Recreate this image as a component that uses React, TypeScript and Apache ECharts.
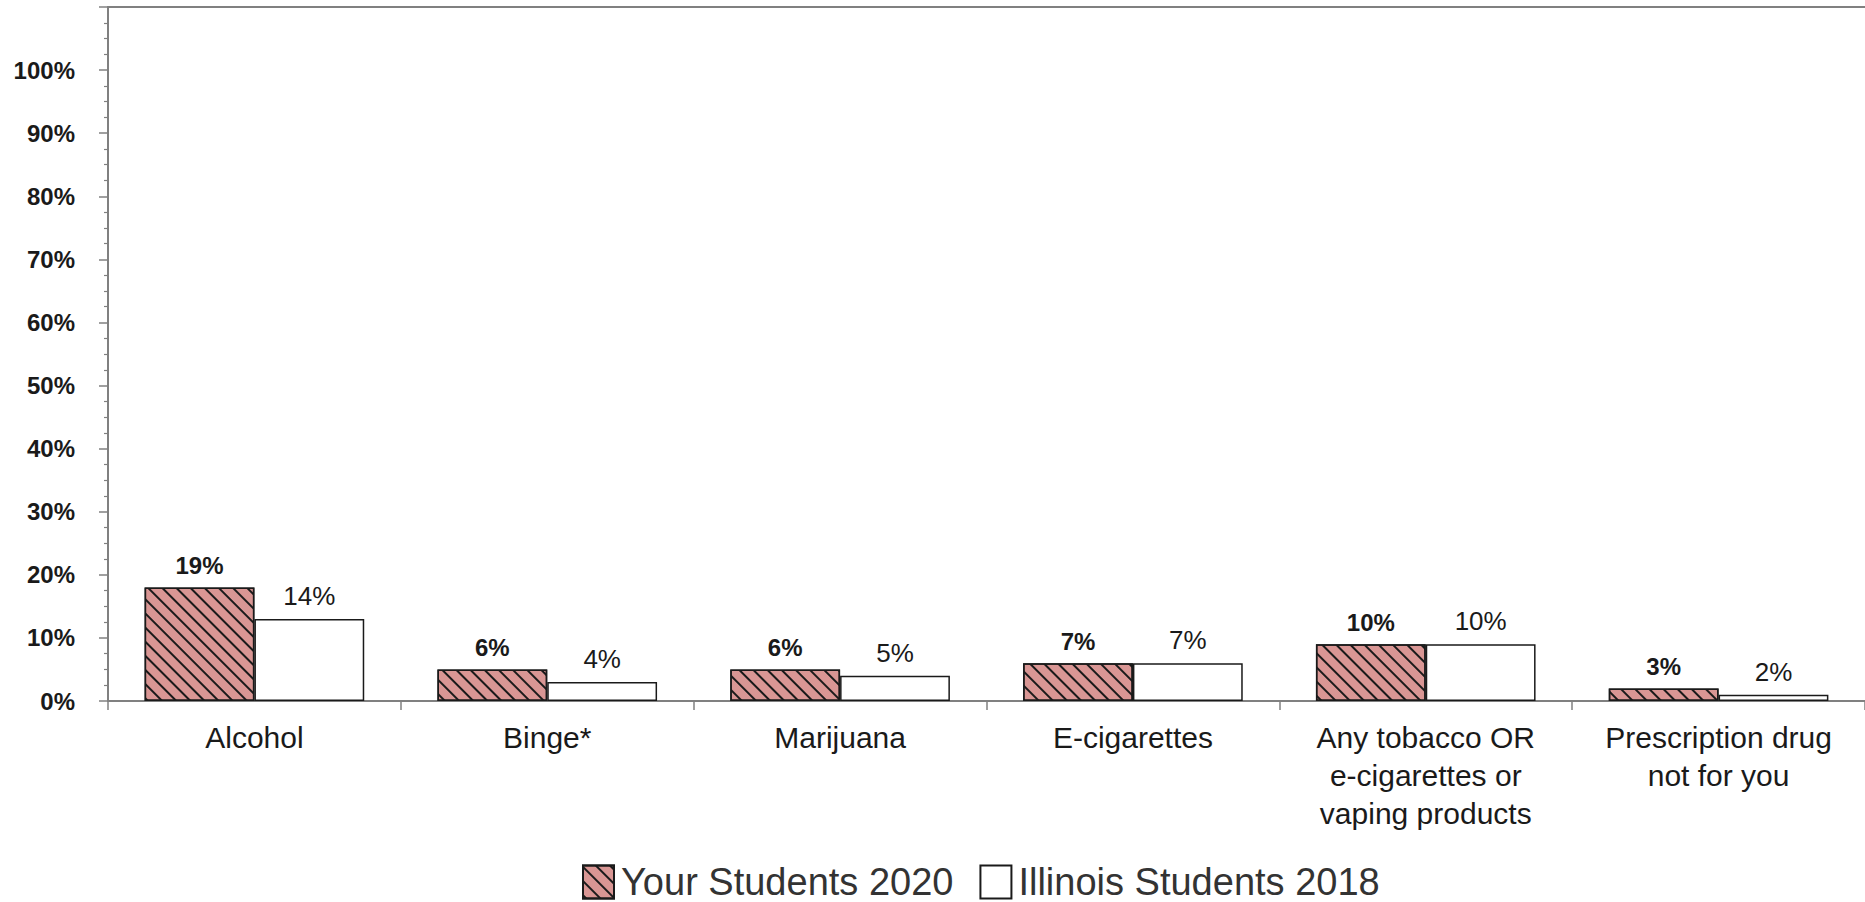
import React, { useEffect, useRef } from "react";
import * as echarts from "echarts";

const categories = [
  "Alcohol",
  "Binge*",
  "Marijuana",
  "E-cigarettes",
  "Any tobacco OR\ne-cigarettes or\nvaping products",
  "Prescription drug\nnot for you",
];
const yourStudents2020 = [18, 5, 5, 6, 9, 2];
const yourStudents2020Labels = ["19%", "6%", "6%", "7%", "10%", "3%"];
const illinoisStudents2018 = [13, 3, 4, 6, 9, 1];
const illinoisStudents2018Labels = ["14%", "4%", "5%", "7%", "10%", "2%"];
const yTickMax = 100;

const FONT = "'Liberation Sans', Arial, sans-serif";
const AXIS_GRAY = "#808080";

export default function App() {
  const ref = useRef<HTMLDivElement>(null);
  useEffect(() => {
    if (!ref.current) return;
    const chart = echarts.init(ref.current, undefined, { renderer: "svg" });
    chart.setOption({
      animation: false,
      backgroundColor: "#ffffff",
      textStyle: { fontFamily: FONT },
      grid: { left: 108, right: 0, top: 7, bottom: 201, containLabel: false },
      legend: {
        top: 863,
        left: 582,
        padding: 0,
        itemWidth: 31,
        itemHeight: 33,
        itemGap: 26,
        icon: "rect",
        textStyle: {
          fontFamily: FONT,
          fontSize: 38,
          lineHeight: 38,
          color: "#333333",
          padding: [0, 0, 0, 2],
        },
        data: ["Your Students 2020", "Illinois Students 2018"],
      },
      xAxis: [
        {
          type: "category",
          data: categories,
          axisLine: { show: true, lineStyle: { color: AXIS_GRAY, width: 2 } },
          axisTick: { show: true, length: 9, lineStyle: { color: AXIS_GRAY, width: 1.5 } },
          axisLabel: {
            interval: 0,
            margin: 17,
            fontFamily: FONT,
            fontSize: 30,
            lineHeight: 38,
            color: "#1a1a1a",
          },
        },
        {
          type: "category",
          data: categories,
          position: "top",
          axisLine: { show: true, lineStyle: { color: AXIS_GRAY, width: 2 } },
          axisTick: { show: false },
          axisLabel: { show: false },
        },
      ],
      yAxis: {
        type: "value",
        min: 0,
        max: 110,
        interval: 10,
        axisLine: { show: true, lineStyle: { color: AXIS_GRAY, width: 2 } },
        axisTick: { show: true, length: 9, lineStyle: { color: AXIS_GRAY, width: 1.5 } },
        minorTick: { show: true, splitNumber: 4, length: 4, lineStyle: { color: AXIS_GRAY, width: 1.2 } },
        splitLine: { show: false },
        axisLabel: {
          margin: 33,
          fontFamily: FONT,
          fontSize: 24,
          fontWeight: "bold",
          color: "#1a1a1a",
          formatter: (v: number) => (v > yTickMax ? "" : v + "%"),
        },
      },
      series: [
        {
          name: "Your Students 2020",
          type: "bar",
          data: yourStudents2020,
          barGap: "0%",
          barCategoryGap: "25%",
          itemStyle: {
            color: "#d99694",
            borderColor: "#1a1a1a",
            borderWidth: 1.5,
            decal: {
              symbol: "rect",
              symbolSize: 1,
              dashArrayX: [1, 0],
              dashArrayY: [1.6, 7.4],
              rotation: Math.PI / 4,
              color: "#1a1a1a",
            },
          },
          label: {
            show: true,
            position: "top",
            distance: 10,
            fontFamily: FONT,
            fontSize: 24,
            fontWeight: "bold",
            color: "#1a1a1a",
            formatter: (p: any) => yourStudents2020Labels[p.dataIndex],
          },
        },
        {
          name: "Illinois Students 2018",
          type: "bar",
          data: illinoisStudents2018,
          itemStyle: { color: "#ffffff", borderColor: "#1a1a1a", borderWidth: 1.5 },
          label: {
            show: true,
            position: "top",
            distance: 10,
            fontFamily: FONT,
            fontSize: 26,
            color: "#1a1a1a",
            formatter: (p: any) => illinoisStudents2018Labels[p.dataIndex],
          },
        },
      ],
    });
    return () => chart.dispose();
  }, []);
  return (
    <div
      ref={ref}
      style={{ position: "fixed", left: 0, top: 0, width: 1865, height: 902, background: "#fff" }}
    />
  );
}
